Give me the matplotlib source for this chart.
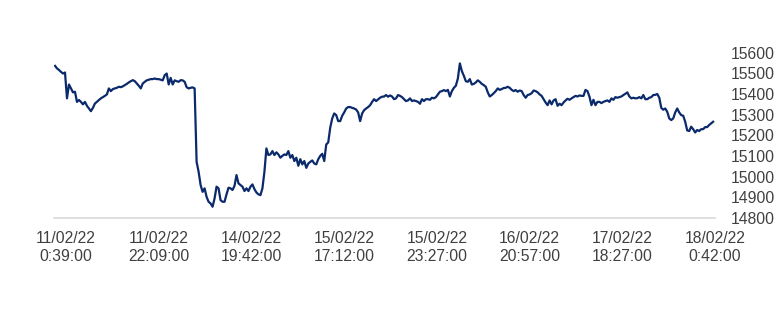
import numpy as np
import matplotlib
matplotlib.use("Agg")
import matplotlib.pyplot as plt

# index level, evenly spaced samples
prices = [
    # 11/02 morning -> drop on 14/02
    15536, 15524, 15516, 15507, 15499, 15504, 15379, 15446, 15427, 15408,
    15411, 15362, 15371, 15362, 15350, 15362, 15343, 15330, 15317, 15333,
    15354, 15362, 15371, 15379, 15385, 15391, 15398, 15427, 15414, 15424,
    15427, 15430, 15435, 15433, 15437, 15443, 15449, 15456, 15462, 15467,
    15462, 15451, 15440, 15427, 15451, 15459, 15466, 15469, 15472, 15472,
    15475, 15472, 15472, 15469, 15466, 15491, 15499, 15446, 15478, 15446,
    15466, 15462, 15459, 15467, 15466, 15459, 15433, 15427, 15430, 15432,
    15427, 15072, 15024, 14960, 14927, 14944, 14903, 14879, 14871, 14855,
    14895, 14952, 14944,
    # 14/02 -> 15/02
    14887, 14879, 14879, 14915, 14947, 14944, 14936, 14956, 15008, 14968,
    14960, 14952, 14931, 14944, 14931, 14952, 14963, 14940, 14924, 14915,
    14911, 14944, 15024, 15137, 15105, 15108, 15124, 15105, 15118, 15108,
    15092, 15101, 15108, 15105, 15124, 15092, 15105, 15076, 15092, 15053,
    15085, 15060, 15076, 15043, 15064, 15072, 15079, 15064, 15060, 15085,
    15101, 15111, 15076, 15156, 15166, 15237, 15282, 15306, 15298, 15269,
    15269, 15295, 15311, 15330, 15337, 15337, 15333, 15330, 15325, 15311,
    15269, 15306, 15322, 15330, 15337, 15346, 15362, 15375, 15366, 15374,
    15382, 15387, 15388,
    # 15/02 -> 16/02
    15395, 15387, 15393, 15388, 15375, 15379, 15395, 15391, 15385, 15375,
    15366, 15369, 15379, 15366, 15369, 15366, 15362, 15353, 15375, 15366,
    15375, 15375, 15372, 15382, 15379, 15385, 15398, 15411, 15414, 15419,
    15414, 15420, 15388, 15414, 15430, 15440, 15475, 15548, 15511, 15488,
    15462, 15459, 15472, 15446, 15449, 15456, 15466, 15459, 15449, 15443,
    15435, 15408, 15388, 15395, 15404, 15414, 15427, 15420, 15424, 15429,
    15430, 15435, 15430, 15420, 15414, 15419, 15411, 15417, 15414, 15395,
    15382, 15395, 15398, 15404, 15417, 15414, 15408, 15398, 15391, 15375,
    15359, 15346,
    # 16/02 -> 18/02
    15369, 15350, 15369, 15375, 15343, 15353, 15346, 15359, 15369, 15377,
    15372, 15379, 15385, 15391, 15388, 15393, 15391, 15391, 15420, 15414,
    15387, 15346, 15372, 15346, 15362, 15362, 15356, 15362, 15366, 15369,
    15362, 15379, 15372, 15385, 15382, 15385, 15388, 15395, 15401, 15408,
    15388, 15379, 15382, 15379, 15380, 15385, 15379, 15395, 15375, 15375,
    15382, 15385, 15395, 15396, 15400, 15382, 15333, 15324, 15330, 15314,
    15282, 15274, 15282, 15311, 15330, 15311, 15298, 15295, 15266, 15224,
    15221, 15242, 15230, 15214, 15226, 15221, 15230, 15230, 15240, 15240,
    15250, 15258, 15266,
]

tick_labels = [
    "11/02/22\n0:39:00", "11/02/22\n22:09:00", "14/02/22\n19:42:00",
    "15/02/22\n17:12:00", "15/02/22\n23:27:00", "16/02/22\n20:57:00",
    "17/02/22\n18:27:00", "18/02/22\n0:42:00",
]
y_ticks = list(range(14800, 15601, 100))

plt.rcParams["font.family"] = ["Liberation Sans", "DejaVu Sans"]

fig = plt.figure(figsize=(7.83, 3.21), dpi=100)
ax = fig.add_axes([0.069, 0.3205, 0.8443, 0.5155])

n = len(prices)
ax.plot(np.arange(n), prices, color="#0b2a6b", lw=1.6, solid_joinstyle="round")

ax.set_xlim(-0.5, n)
ax.set_ylim(14800, 15600)
ax.set_xticks(np.linspace(5.5, n, len(tick_labels)))
ax.set_xticklabels(tick_labels, linespacing=1.2)
ax.set_yticks(y_ticks)

ax.yaxis.tick_right()
ax.tick_params(axis="y", length=0, pad=11, labelsize=11.3, labelcolor="#404040")
ax.tick_params(axis="x", length=0, pad=9.5, labelsize=11.3, labelcolor="#404040")

for side in ["top", "left", "right"]:
    ax.spines[side].set_visible(False)
ax.spines["bottom"].set_color("#d9d9d9")
ax.spines["bottom"].set_linewidth(1.2)
ax.spines["bottom"].set_zorder(0)

fig.savefig("out.png", dpi=100)
